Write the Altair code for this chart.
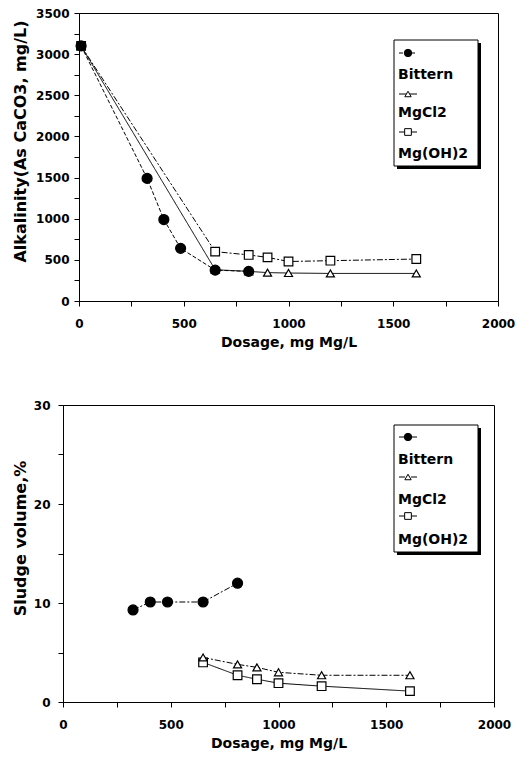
import altair as alt
import pandas as pd

# ---------------- data ----------------
series_names = ["Bittern", "MgCl2", "Mg(OH)2"]

# Alkalinity panel
alk_dose_bittern = [10, 325, 405, 485, 650, 810]
alk_bittern = [3100, 1490, 990, 640, 375, 360]
alk_dose_mg = [10, 650, 810, 900, 1000, 1200, 1610]
alk_mgcl2 = [3100, 380, 360, 345, 340, 335, 335]
alk_mgoh2 = [3100, 600, 560, 530, 480, 490, 510]

# Sludge panel
sl_dose_bittern = [325, 405, 485, 650, 810]
sl_bittern = [9.3, 10.1, 10.1, 10.1, 12.0]
sl_dose_mg = [650, 810, 900, 1000, 1200, 1610]
sl_mgcl2 = [4.5, 3.8, 3.5, 3.0, 2.7, 2.7]
sl_mgoh2 = [4.0, 2.7, 2.3, 1.9, 1.6, 1.1]

x_ticks = [0, 250, 500, 750, 1000, 1250, 1500, 1750, 2000]
alk_ticks = [0, 250, 500, 750, 1000, 1250, 1500, 1750, 2000, 2250, 2500, 2750, 3000, 3250, 3500]
sl_ticks = [0, 5, 10, 15, 20, 25, 30]

FONT = "DejaVu Sans"

# style per series: (shape, filled, dash)
styles_top = {
    "Bittern": ("circle", True, [4, 2]),
    "MgCl2": ("triangle-up", False, [1, 0]),
    "Mg(OH)2": ("square", False, [6, 2, 2, 2]),
}
styles_bot = {
    "Bittern": ("circle", True, [6, 2, 2, 2]),
    "MgCl2": ("triangle-up", False, [6, 2, 2, 2]),
    "Mg(OH)2": ("square", False, [1, 0]),
}
marker_size = {"circle": 100, "triangle-up": 65, "square": 75}
legend_marker_size = {"circle": 55, "triangle-up": 40, "square": 45}
draw_order = ["Mg(OH)2", "MgCl2", "Bittern"]


def make_panel(frames, styles, ytitle, ydomain, yticks, ymajor, width, height,
               title_x, title_y, ylab_pad, box, rows):
    common = dict(
        labelFontSize=12, labelFont=FONT, titleFont=FONT,
        labelFontWeight="bold", titleFontWeight="bold",
        labelColor="black", titleColor="black", domainColor="black",
        tickColor="black", labelFlush=False, labelOverlap=False, grid=False,
        tickSize=5,
    )
    xenc = alt.X(
        "dose:Q",
        scale=alt.Scale(domain=[0, 2000], nice=False),
        axis=alt.Axis(
            title="Dosage, mg Mg/L", values=x_ticks, format="d",
            labelExpr="datum.value % 500 == 0 ? datum.label : ''",
            labelPadding=12, titlePadding=6, titleFontSize=14, **common,
        ),
    )
    yenc = alt.Y(
        "val:Q",
        scale=alt.Scale(domain=ydomain, nice=False),
        axis=alt.Axis(
            title=ytitle, values=yticks, format="d",
            labelExpr=f"datum.value % {ymajor} == 0 ? datum.label : ''",
            labelPadding=ylab_pad,
            titleX=title_x, titleY=title_y, titleFontSize=16,
            titleBaseline="bottom", titleAngle=270, **common,
        ),
    )
    layers = []
    for name in series_names:
        shape, filled, dash = styles[name]
        layers.append(
            alt.Chart(frames[name]).mark_line(
                color="black", strokeWidth=1, strokeDash=dash
            ).encode(x=xenc, y=yenc)
        )
    for name in draw_order:
        shape, filled, dash = styles[name]
        layers.append(
            alt.Chart(frames[name]).mark_point(
                shape=shape, filled=True, fill="black" if filled else "white",
                stroke="black", strokeWidth=1.2, size=marker_size[shape], opacity=1,
            ).encode(x=xenc, y=yenc)
        )

    # legend box (shadow + box)
    bx0, by0, bx1, by1 = box
    anchor = pd.DataFrame({"k": [0]})
    layers.append(
        alt.Chart(anchor).mark_rect(fill="black").encode(
            x=alt.value(bx0 + 3), x2=alt.value(bx1 + 3),
            y=alt.value(by0 + 3), y2=alt.value(by1 + 3),
        )
    )
    layers.append(
        alt.Chart(anchor).mark_rect(fill="white", stroke="black", strokeWidth=1).encode(
            x=alt.value(bx0), x2=alt.value(bx1),
            y=alt.value(by0), y2=alt.value(by1),
        )
    )
    for i, name in enumerate(series_names):
        shape, filled, dash = styles[name]
        sy = rows[2 * i]
        ty = rows[2 * i + 1]
        layers.append(
            alt.Chart(anchor).mark_rule(color="black", strokeWidth=1, strokeDash=dash).encode(
                x=alt.value(bx0 + 5), x2=alt.value(bx0 + 23), y=alt.value(sy)
            )
        )
        layers.append(
            alt.Chart(anchor).mark_point(
                shape=shape, filled=True, fill="black" if filled else "white",
                stroke="black", strokeWidth=1, size=legend_marker_size[shape], opacity=1,
            ).encode(x=alt.value(bx0 + 14), y=alt.value(sy))
        )
        layers.append(
            alt.Chart(anchor).mark_text(
                text=name, align="left", baseline="middle", font=FONT,
                fontSize=14, fontWeight="bold", color="black",
            ).encode(x=alt.value(bx0 + 4), y=alt.value(ty))
        )
    return alt.layer(*layers).properties(width=width, height=height)


def spacer():
    return alt.Chart(pd.DataFrame({"k": [0]})).mark_point(opacity=0).encode(
        x=alt.value(0), y=alt.value(0)
    ).properties(width=1, height=1, view=alt.ViewBackground(stroke="transparent"))


top_frames = {
    "Bittern": pd.DataFrame({"dose": alk_dose_bittern, "val": alk_bittern}),
    "MgCl2": pd.DataFrame({"dose": alk_dose_mg, "val": alk_mgcl2}),
    "Mg(OH)2": pd.DataFrame({"dose": alk_dose_mg, "val": alk_mgoh2}),
}
bot_frames = {
    "Bittern": pd.DataFrame({"dose": sl_dose_bittern, "val": sl_bittern}),
    "MgCl2": pd.DataFrame({"dose": sl_dose_mg, "val": sl_mgcl2}),
    "Mg(OH)2": pd.DataFrame({"dose": sl_dose_mg, "val": sl_mgoh2}),
}

top = make_panel(
    top_frames, styles_top, "Alkalinity(As CaCO3, mg/L)", [0, 3500], alk_ticks, 500,
    419, 288, -51, 128, 5, (315, 27, 399, 153), [40, 62, 81, 100, 119, 141],
)
bot = make_panel(
    bot_frames, styles_bot, "Sludge volume,%", [0, 30], sl_ticks, 10,
    431, 297, -35, 133, 8, (331, 20, 415, 147), [32, 55, 72, 95, 111, 135],
)

chart = alt.vconcat(
    alt.hconcat(spacer(), top, spacing=0),
    alt.hconcat(spacer(), bot, spacing=0),
    spacing=48,
).properties(
    padding={"left": 3, "top": 6, "right": 5, "bottom": 2},
    background="white",
).configure_view(
    stroke="black", strokeWidth=1
).configure_axis(
    grid=False
)

chart.save("out.html", embed_options={"renderer": "svg", "actions": False})
